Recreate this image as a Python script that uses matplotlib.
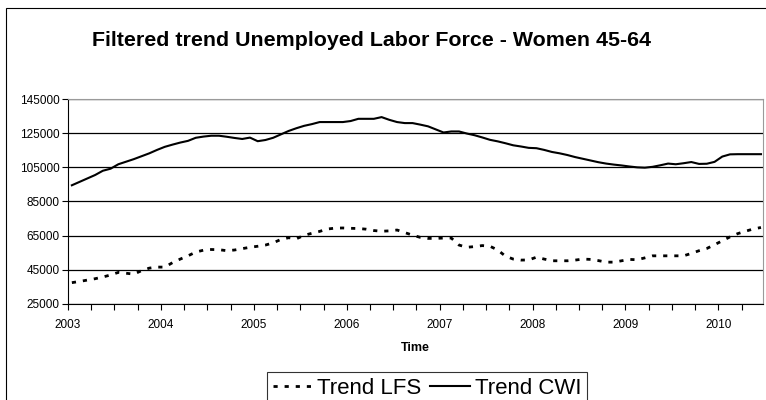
import numpy as np
import matplotlib
matplotlib.use("Agg")
import matplotlib.pyplot as plt
from matplotlib.patches import Rectangle
from matplotlib.ticker import MultipleLocator

plt.rcParams['font.family'] = ['Liberation Sans', 'DejaVu Sans']

# Monthly observations, Jan 2003 - Jun 2010 (plotted mid-month)
start_year = 2003
n_months = 90

trend_cwi = [
    94500, 96500, 98500, 100500, 103000, 104200, 106800, 108300, 109800, 111500, 113200, 115200,
    117000, 118300, 119500, 120500, 122300, 123000, 123500, 123500, 122900, 122200, 121600, 122400,
    120300, 121000, 122300, 124300, 126300, 127900, 129300, 130300, 131500, 131500, 131500, 131500,
    132100, 133400, 133400, 133400, 134400, 132800, 131500, 130900, 130900, 130000, 129000, 127200,
    125400, 126000, 126000, 124800, 123800, 122500, 121100, 120200, 119100, 117900, 117200, 116400,
    116200, 115200, 114000, 113200, 112200, 111000, 110000, 109000, 108000, 107200, 106600, 106100,
    105500, 105000, 104800, 105300, 106200, 107200, 106800, 107400, 108100, 107000, 107100, 108200,
    111300, 112600, 112700, 112700, 112700, 112700,
]

trend_lfs = [
    37500, 38200, 39000, 39800, 40800, 42000, 43500, 43000, 42500, 44500, 46000, 46600,
    46600, 49200, 51300, 53200, 55400, 56500, 56900, 56800, 56200, 56600, 57400, 58200,
    58800, 59500, 60800, 62800, 63800, 63200, 65200, 66400, 67500, 68900, 69400, 69500,
    69300, 69200, 68800, 68000, 67600, 67800, 68300, 66800, 65300, 64000, 63400, 63400,
    63600, 63600, 59500, 58200, 58600, 59200, 58800, 56600, 53000, 51300, 50700, 50800,
    52400, 51300, 50300, 50300, 50300, 50700, 51300, 51100, 50400, 49500, 49500, 50300,
    51100, 50900, 52000, 53200, 53200, 53200, 53200, 53200, 54600, 56200, 57500, 59700,
    62000, 64300, 66200, 67600, 68900, 69800,
]

year_ticks = [2003, 2004, 2005, 2006, 2007, 2008, 2009, 2010]
y_ticks = [25000, 45000, 65000, 85000, 105000, 125000, 145000]

t = start_year + (np.arange(n_months) + 0.5) / 12

fig = plt.figure(figsize=(7.66, 4.0), dpi=100)
ax = fig.add_axes([68 / 766, 1 - 304 / 400, (763 - 68) / 766, (304 - 99) / 400])

# outer chart frame (only left/top edges visible in the crop)
fig.patches.append(Rectangle((6 / 766, -0.5), 1.5, 1.5 - 8 / 400,
                             transform=fig.transFigure, fill=False,
                             edgecolor='black', linewidth=0.8))

ax.plot(t, trend_lfs, color='black', linewidth=2, linestyle=(0, (1.5, 2.5)),
        label='Trend LFS')
ax.plot(t, trend_cwi, color='black', linewidth=1.5, label='Trend CWI')

ax.set_xlim(2003, 2010.48)
ax.set_ylim(25000, 145000)
ax.set_yticks(y_ticks)
ax.set_yticklabels([str(v) for v in y_ticks])
ax.set_xticks(year_ticks)
ax.set_xticklabels([str(v) for v in year_ticks])
ax.xaxis.set_minor_locator(MultipleLocator(0.25))

ax.grid(axis='y', color='black', linewidth=0.9)
ax.set_axisbelow(True)
ax.tick_params(axis='both', which='both', direction='out', length=4, width=0.8,
               labelsize=8.5, color='black')
ax.tick_params(axis='x', pad=7)
ax.tick_params(axis='y', pad=2)

for side in ['top', 'right']:
    ax.spines[side].set_color('#9a9a9a')
for side in ['left', 'bottom']:
    ax.spines[side].set_color('black')

ax.set_xlabel('Time', fontsize=9, fontweight='bold', labelpad=8)

fig.text(371 / 766, 1 - 40 / 400, 'Filtered trend Unemployed Labor Force - Women 45-64',
         ha='center', va='center', fontsize=15.4, fontweight='bold')

leg = fig.legend(loc='upper center', bbox_to_anchor=(427 / 766, 1 - 372 / 400),
                 ncol=2, frameon=True, fancybox=False, fontsize=16,
                 handlelength=1.8, handletextpad=0.2, columnspacing=0.4,
                 borderpad=0.25, borderaxespad=0)
leg.get_frame().set_edgecolor('black')
leg.get_frame().set_linewidth(0.8)

fig.savefig('out.png', dpi=100)
